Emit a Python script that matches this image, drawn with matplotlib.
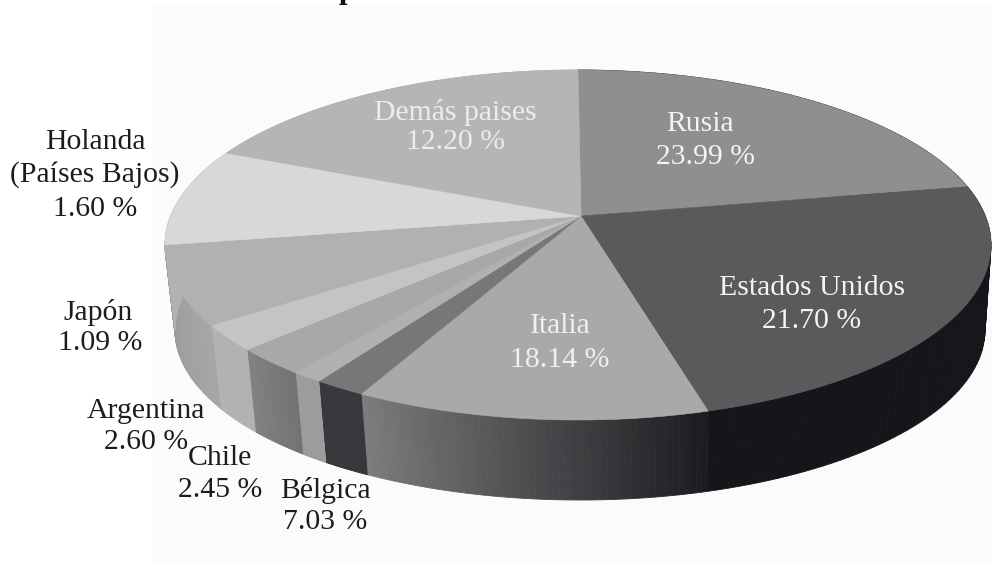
import numpy as np
import matplotlib
matplotlib.use("Agg")
import matplotlib.pyplot as plt
from matplotlib.collections import PolyCollection
from matplotlib.colors import to_rgb
from matplotlib.patches import Polygon, Rectangle

# Visible share of each slice, clockwise from 12 o'clock
slice_names = ["Rusia", "Estados Unidos", "Italia", "Oscura", "Gris A", "Gris B",
               "Clara", "Gris C", "Holanda", "Demás"]
slice_shares = [19.6, 25.3, 13.9, 2.0, 1.2, 2.8, 2.6, 7.6, 8.8, 16.2]
top_colors = ["#8f8f90", "#5a5a5d", "#a9a9aa", "#77777a", "#b0b0b0", "#a8a8a9",
              "#c4c4c5", "#b1b1b2", "#d8d8d9", "#b5b5b6"]
side_start = ["#16161a", "#16161a", "#1c1c20", "#38383c", "#9c9c9d", "#737375",
              "#b2b2b3", "#a6a6a7", "#b2b2b3", "#b2b2b3"]
side_end = ["#16161a", "#16161a", "#7c7c7e", "#38383c", "#9c9c9d", "#828284",
            "#b2b2b3", "#9a9a9b", "#b2b2b3", "#b2b2b3"]

label_lines = [
    ("Demás paises", 455, 112, "#ececec"), ("12.20 %", 455, 142, "#ececec"),
    ("Rusia", 700, 124, "#f4f4f4"), ("23.99 %", 705, 157, "#f4f4f4"),
    ("Estados Unidos", 812, 288, "#f4f4f4"), ("21.70 %", 812, 321, "#f4f4f4"),
    ("Italia", 560, 326, "#f0f0f0"), ("18.14 %", 560, 360, "#f0f0f0"),
    ("Holanda", 95, 142, "#1c1c1c"), ("(Países Bajos)", 95, 175, "#1c1c1c"),
    ("1.60 %", 95, 209, "#1c1c1c"),
    ("Japón", 98, 312, "#1c1c1c"), ("1.09 %", 100, 343, "#1c1c1c"),
    ("Argentina", 146, 411, "#1c1c1c"), ("2.60 %", 146, 442, "#1c1c1c"),
    ("Chile", 220, 458, "#1c1c1c"), ("2.45 %", 220, 490, "#1c1c1c"),
    ("Bélgica", 325, 491, "#1c1c1c"), ("7.03 %", 325, 522, "#1c1c1c"),
]

W, H = 992, 581
VERTEX = (581, 216)
TOP = dict(cx=578, cy=245, a=413, b=175)
BOT = dict(cx=580, cy=330, a=405, b=170)


def rim(theta, e):
    return e["cx"] + e["a"] * np.sin(theta), e["cy"] - e["b"] * np.cos(theta)


fig = plt.figure(figsize=(W / 100, H / 100), dpi=100, facecolor="white")
ax = fig.add_axes([0, 0, 1, 1])
ax.set_xlim(0, W)
ax.set_ylim(H, 0)
ax.axis("off")

ax.add_patch(Rectangle((153, 6), W - 153, 558, fc="#fbfbfb", ec="none", zorder=0))

edges = np.cumsum([0] + slice_shares) / np.sum(slice_shares) * 2 * np.pi

# side wall, in thin shaded strips
for i in range(len(slice_shares)):
    t = np.linspace(edges[i], edges[i + 1], 60)
    t0, t1 = t[:-1], t[1:]
    xa, ya = rim(t0, TOP)
    xb, yb = rim(t1, TOP)
    xc, yc = rim(t1, BOT)
    xd, yd = rim(t0, BOT)
    polys = np.stack([np.c_[xa, ya], np.c_[xb, yb], np.c_[xc, yc], np.c_[xd, yd]], axis=1)
    f = np.linspace(0, 1, len(t0))[:, None]
    cols = (1 - f) * np.array(to_rgb(side_start[i])) + f * np.array(to_rgb(side_end[i]))
    ax.add_collection(PolyCollection(polys, facecolors=cols, edgecolors=cols,
                                     linewidths=0.6, zorder=2))

# top face
for i, c in enumerate(top_colors):
    t = np.linspace(edges[i], edges[i + 1], 80)
    x, y = rim(t, TOP)
    pts = np.vstack([[VERTEX], np.c_[x, y]])
    ax.add_patch(Polygon(pts, closed=True, fc=c, ec=c, lw=0.4, zorder=3))

for text, x, y, col in label_lines:
    ax.text(x, y, text, ha="center", va="center", color=col, fontsize=21.4,
            family="Liberation Serif", zorder=5)

# title, cut off by the top edge: only a descender shows
ax.text(347, -2, "p", ha="center", va="baseline", color="#111111", fontsize=22,
        family="Liberation Serif", weight="bold", zorder=5)

fig.savefig("out.png", dpi=100)
